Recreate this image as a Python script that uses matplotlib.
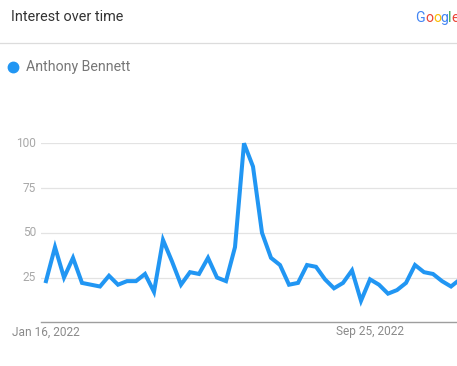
import matplotlib
matplotlib.use("Agg")
import matplotlib.pyplot as plt
from matplotlib.lines import Line2D

plt.rcParams['font.family'] = ['Roboto', 'DejaVu Sans']

title = "Interest over time"
series_name = "Anthony Bennett"
values = [23, 42, 25, 36, 22, 21, 20, 26, 21, 23, 23, 27, 17, 46, 34, 21, 28, 27,
          36, 25, 23, 42, 100, 87, 50, 36, 32, 21, 22, 32, 31, 24, 19, 22, 29, 12,
          24, 21, 16, 18, 22, 32, 28, 27, 23, 20, 24]
y_ticks = [25, 50, 75, 100]
x_tick_pos = [0, 36]
x_tick_labels = ["Jan 16, 2022", "Sep 25, 2022"]

W, H = 457, 366
fig = plt.figure(figsize=(W / 100, H / 100), dpi=100)

def fx(px):
    return px / W

def fy(py):
    return 1 - py / H

line_color = '#2196f3'

# axes geometry in pixels
ax_left, ax_right = 41, 480
ax_top, ax_bottom = 143.3, 322.3
ax = fig.add_axes([fx(ax_left), fy(ax_bottom), fx(ax_right - ax_left), (ax_bottom - ax_top) / H])
px_per_step = 9.0
x0 = -(46 - ax_left) / px_per_step
x1 = x0 + (ax_right - ax_left) / px_per_step
ax.set_xlim(x0, x1)
ax.set_ylim(0, 100)

for t in y_ticks:
    ax.axhline(t, color='#e3e3e3', lw=0.9, zorder=1)
ax.axhline(0, color='#9e9e9e', lw=1.0, zorder=1, clip_on=False)

ax.plot(range(len(values)), values, color=line_color, lw=2.9, solid_joinstyle='miter',
        zorder=3, clip_on=False)

for s in ax.spines.values():
    s.set_visible(False)
ax.set_xticks([])
ax.set_yticks([])

for t in y_ticks:
    ax.text(x0 - 5 / px_per_step, t, str(t), ha='right', va='center', fontsize=8.6,
            color='#a8a8a8')
for p, lab in zip(x_tick_pos, x_tick_labels):
    fig.text(fx(46 + p * px_per_step), fy(332), lab, ha='center', va='center',
             fontsize=8.6, color='#8a8a8a')

# header
fig.text(fx(11), fy(17), title, ha='left', va='center', fontsize=10.4, color='#333333')
fig.add_artist(Line2D([0, 1], [fy(43.3), fy(43.3)], color='#dcdcdc', lw=0.9))

# legend
fig.add_artist(Line2D([fx(13)], [fy(67)], marker='o', markersize=7.5, color=line_color,
                      linestyle='none'))
fig.text(fx(26), fy(67), series_name, ha='left', va='center', fontsize=10.2, color='#777777')

# Google logo
logo = [("G", '#4285f4', 415), ("o", '#ea4335', 425.5), ("o", '#fbbc05', 433),
        ("g", '#4285f4', 440.5), ("l", '#34a853', 448), ("e", '#ea4335', 451)]
for ch, c, x in logo:
    fig.text(fx(x), fy(18), ch, ha='left', va='center', fontsize=10.2, color=c)

fig.savefig("out.png", dpi=100)
